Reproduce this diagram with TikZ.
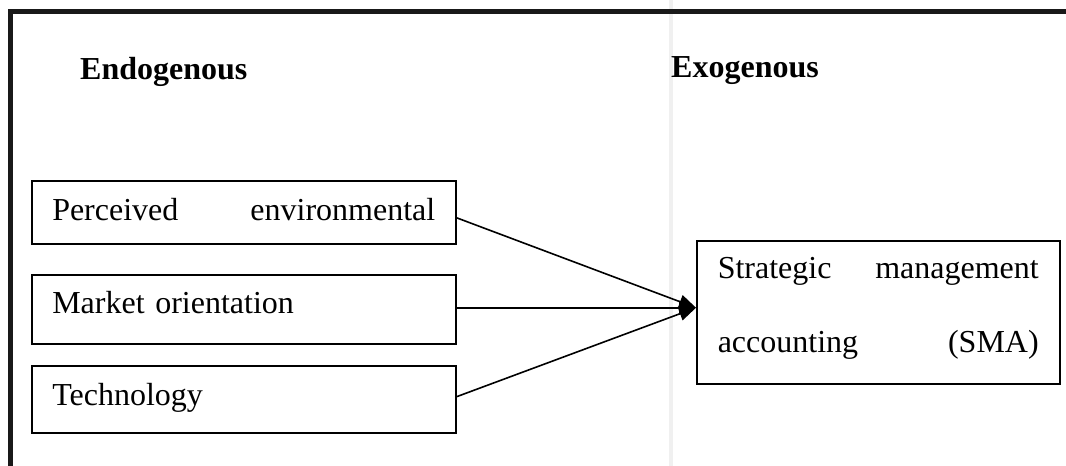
\documentclass[tikz,border=0pt]{standalone}
\usepackage{fontspec}
\setmainfont{Liberation Serif}
\usetikzlibrary{arrows.meta,calc}

\tikzset{
  big/.style={font=\fontsize{32}{38}\selectfont},
  heading/.style={font=\fontsize{32}{38}\selectfont\bfseries, anchor=base west, inner sep=0pt},
  factor/.style={big, draw, line width=1.5pt, rectangle, anchor=north west,
    text width=383pt, inner xsep=20.5pt, inner ysep=0pt, text height=22pt, align=left},
  outcome/.style={big, draw, line width=1.5pt, rectangle, anchor=north west,
    text width=321pt, inner xsep=21pt, inner ysep=0pt, text height=22pt, text depth=89pt},
  link/.style={line width=1.6pt, -{Triangle[length=17pt,width=14pt]}},
  frame/.style={line width=4.5pt, black!90},
  crease/.style={line width=4pt, black!6}
}

\begin{document}
\begin{tikzpicture}[x=1pt, y=-1pt]
  \useasboundingbox (0,0) rectangle (1066,466);
  \fill[white] (0,0) rectangle (1066,466);

  % faint vertical crease of the page
  \draw[crease] (671,0) -- (671,466);

  % open frame: top and left edges
  \draw[frame] (10.5,466) -- (10.5,11.5) -- (1066,11.5);

  % column headings
  \node[heading] (endo) at (80,79) {Endogenous};
  \node[heading] (exo) at (671,77) {Exogenous};

  % endogenous factors
  \node[factor, minimum height=63pt, text depth=5pt] (pe) at (31,180)
    {\hbox to\linewidth{Perceived\hfill environmental}};
  \node[factor, minimum height=69pt, text depth=13pt] (mo) at (31,274)
    {Market orientation};
  \node[factor, minimum height=67pt, text depth=9pt] (tech) at (31,365)
    {Technology};

  % exogenous outcome, double spaced
  \node[outcome, minimum height=143pt] (sma) at (696,240)
    {\hbox to\linewidth{Strategic\hfill management}\\[36pt]%
     \hbox to\linewidth{accounting\hfill (SMA)}};

  \coordinate (tip) at ($(sma.west)+(0,-4.5)$);

  % influences
  \draw[link] ($(pe.east)+(0,5.5)$) -- (tip);
  \draw[link] ($(mo.east)+(0,-1.5)$) -- (tip);
  \draw[link] ($(tech.east)+(0,-2.5)$) -- (tip);
\end{tikzpicture}
\end{document}
